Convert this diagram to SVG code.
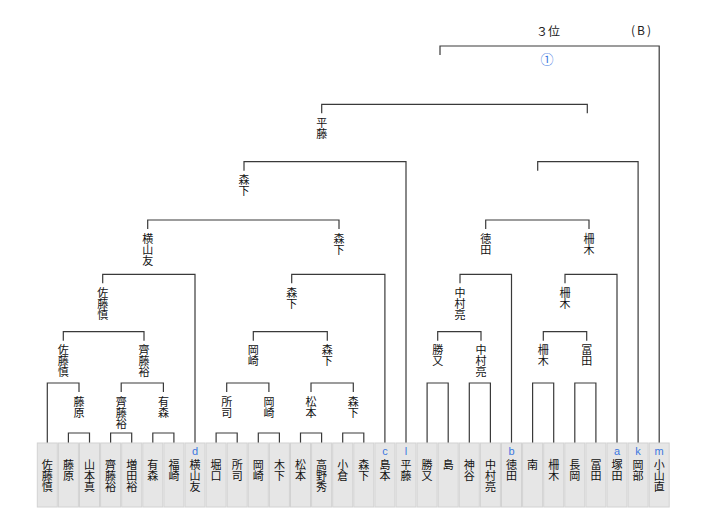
<svg xmlns="http://www.w3.org/2000/svg" width="720" height="518" viewBox="0 0 720 518">
<style>
.bg{fill:#fff}
.box{fill:#e6e6e6;stroke:#d2d2d2;stroke-width:1}
.n{font-family:"Noto Sans CJK JP","Noto Sans CJK SC",sans-serif;font-size:11px;fill:#111;text-anchor:middle}
.t{font-family:"Noto Sans CJK JP","Noto Sans CJK SC",sans-serif;font-size:12px;fill:#222;text-anchor:middle}
.s{font-family:"Liberation Sans",Arial,sans-serif;font-size:11px;fill:#3c78e0;text-anchor:middle}
.o{font-family:"Noto Sans CJK JP","Noto Sans CJK SC",sans-serif;font-size:13px;fill:#3c78e0;text-anchor:middle}
.c path{fill:none;stroke:#3a3a3a;stroke-width:1.2}
</style>
<rect class="bg" x="0" y="0" width="720" height="518"/>

<g id="connectors" class="c">
<path d="M68.4 443V433H89.5V443"/>
<path d="M110.6 443V433H131.7V443"/>
<path d="M152.8 443V433H173.9V443"/>
<path d="M216.1 443V433H237.2V443"/>
<path d="M258.3 443V433H279.4V443"/>
<path d="M300.5 443V433H321.6V443"/>
<path d="M342.7 443V433H363.8V443"/>
<path d="M47.3 443V383H79V392"/>
<path d="M121.2 392V383H163.4V392"/>
<path d="M226.7 392V383H268.9V392"/>
<path d="M311 392V383H353.3V392"/>
<path d="M63.3 340.7V331.7H144V340.7"/>
<path d="M253.3 340.7V331.7H327.3V340.7"/>
<path d="M102.7 283.3V274.3H195V443"/>
<path d="M291.7 283.3V274.3H384.9V443"/>
<path d="M147.7 229V220H339V229"/>
<path d="M244 170.7V161.7H406V443"/>
<path d="M321.7 113.3V104.3H587.3V113.3"/>
<path d="M427.1 443V383H448.2V443"/>
<path d="M469.3 443V383H490.4V443"/>
<path d="M532.6 443V383H553.7V443"/>
<path d="M574.8 443V383H595.9V443"/>
<path d="M437.7 340.7V331.7H481V340.7"/>
<path d="M543.3 340.7V331.7H586.7V340.7"/>
<path d="M460 283.3V274.3H511.5V443"/>
<path d="M565 283.3V274.3H617V443"/>
<path d="M485.7 229V220H589V229"/>
<path d="M537.7 170.7V161.7H638.1V443"/>
<path d="M440 55V46H659.2V443"/>
</g>

<g id="title">
<text class="t" x="548" y="36">３位</text>
<text class="t" x="642" y="35" letter-spacing="2">(B)</text>
<text class="o" x="547" y="63.5">①</text>
</g>

<g id="p0"><rect class="box" x="37.3" y="443" width="20" height="64"/><text class="n" x="47.3 47.3 47.3" y="468.5 479.5 490.5">佐藤慎</text></g>
<g id="p1"><rect class="box" x="58.4" y="443" width="20" height="64"/><text class="n" x="68.4 68.4" y="468.5 479.5">藤原</text></g>
<g id="p2"><rect class="box" x="79.5" y="443" width="20" height="64"/><text class="n" x="89.5 89.5 89.5" y="468.5 479.5 490.5">山本真</text></g>
<g id="p3"><rect class="box" x="100.6" y="443" width="20" height="64"/><text class="n" x="110.6 110.6 110.6" y="468.5 479.5 490.5">齊藤裕</text></g>
<g id="p4"><rect class="box" x="121.7" y="443" width="20" height="64"/><text class="n" x="131.7 131.7 131.7" y="468.5 479.5 490.5">増田裕</text></g>
<g id="p5"><rect class="box" x="142.8" y="443" width="20" height="64"/><text class="n" x="152.8 152.8" y="468.5 479.5">有森</text></g>
<g id="p6"><rect class="box" x="163.9" y="443" width="20" height="64"/><text class="n" x="173.9 173.9" y="468.5 479.5">福崎</text></g>
<g id="p7"><rect class="box" x="185" y="443" width="20" height="64"/><text class="s" x="195" y="455">d</text><text class="n" x="195 195 195" y="468.5 479.5 490.5">横山友</text></g>
<g id="p8"><rect class="box" x="206.1" y="443" width="20" height="64"/><text class="n" x="216.1 216.1" y="468.5 479.5">堀口</text></g>
<g id="p9"><rect class="box" x="227.2" y="443" width="20" height="64"/><text class="n" x="237.2 237.2" y="468.5 479.5">所司</text></g>
<g id="p10"><rect class="box" x="248.3" y="443" width="20" height="64"/><text class="n" x="258.3 258.3" y="468.5 479.5">岡崎</text></g>
<g id="p11"><rect class="box" x="269.4" y="443" width="20" height="64"/><text class="n" x="279.4 279.4" y="468.5 479.5">木下</text></g>
<g id="p12"><rect class="box" x="290.5" y="443" width="20" height="64"/><text class="n" x="300.5 300.5" y="468.5 479.5">松本</text></g>
<g id="p13"><rect class="box" x="311.6" y="443" width="20" height="64"/><text class="n" x="321.6 321.6 321.6" y="468.5 479.5 490.5">高野秀</text></g>
<g id="p14"><rect class="box" x="332.7" y="443" width="20" height="64"/><text class="n" x="342.7 342.7" y="468.5 479.5">小倉</text></g>
<g id="p15"><rect class="box" x="353.8" y="443" width="20" height="64"/><text class="n" x="363.8 363.8" y="468.5 479.5">森下</text></g>
<g id="p16"><rect class="box" x="374.9" y="443" width="20" height="64"/><text class="s" x="384.9" y="455">c</text><text class="n" x="384.9 384.9" y="468.5 479.5">島本</text></g>
<g id="p17"><rect class="box" x="396" y="443" width="20" height="64"/><text class="s" x="406" y="455">l</text><text class="n" x="406 406" y="468.5 479.5">平藤</text></g>
<g id="p18"><rect class="box" x="417.1" y="443" width="20" height="64"/><text class="n" x="427.1 427.1" y="468.5 479.5">勝又</text></g>
<g id="p19"><rect class="box" x="438.2" y="443" width="20" height="64"/><text class="n" x="448.2" y="468.5">島</text></g>
<g id="p20"><rect class="box" x="459.3" y="443" width="20" height="64"/><text class="n" x="469.3 469.3" y="468.5 479.5">神谷</text></g>
<g id="p21"><rect class="box" x="480.4" y="443" width="20" height="64"/><text class="n" x="490.4 490.4 490.4" y="468.5 479.5 490.5">中村亮</text></g>
<g id="p22"><rect class="box" x="501.5" y="443" width="20" height="64"/><text class="s" x="511.5" y="455">b</text><text class="n" x="511.5 511.5" y="468.5 479.5">徳田</text></g>
<g id="p23"><rect class="box" x="522.6" y="443" width="20" height="64"/><text class="n" x="532.6" y="468.5">南</text></g>
<g id="p24"><rect class="box" x="543.7" y="443" width="20" height="64"/><text class="n" x="553.7 553.7" y="468.5 479.5">柵木</text></g>
<g id="p25"><rect class="box" x="564.8" y="443" width="20" height="64"/><text class="n" x="574.8 574.8" y="468.5 479.5">長岡</text></g>
<g id="p26"><rect class="box" x="585.9" y="443" width="20" height="64"/><text class="n" x="595.9 595.9" y="468.5 479.5">冨田</text></g>
<g id="p27"><rect class="box" x="607" y="443" width="20" height="64"/><text class="s" x="617" y="455">a</text><text class="n" x="617 617" y="468.5 479.5">塚田</text></g>
<g id="p28"><rect class="box" x="628.1" y="443" width="20" height="64"/><text class="s" x="638.1" y="455">k</text><text class="n" x="638.1 638.1" y="468.5 479.5">岡部</text></g>
<g id="p29"><rect class="box" x="649.2" y="443" width="20" height="64"/><text class="s" x="659.2" y="455">m</text><text class="n" x="659.2 659.2 659.2" y="468.5 479.5 490.5">小山直</text></g>

<g id="w1"><text class="n" x="79 79" y="405.5 416.5">藤原</text></g>
<g id="w2"><text class="n" x="121.2 121.2 121.2" y="405.5 416.5 427.5">齊藤裕</text></g>
<g id="w3"><text class="n" x="163.4 163.4" y="405.5 416.5">有森</text></g>
<g id="w4"><text class="n" x="226.7 226.7" y="405.5 416.5">所司</text></g>
<g id="w5"><text class="n" x="268.9 268.9" y="405.5 416.5">岡崎</text></g>
<g id="w6"><text class="n" x="311 311" y="405.5 416.5">松本</text></g>
<g id="w7"><text class="n" x="353.3 353.3" y="405.5 416.5">森下</text></g>
<g id="w8"><text class="n" x="63.3 63.3 63.3" y="354.2 365.2 376.2">佐藤慎</text></g>
<g id="w9"><text class="n" x="144 144 144" y="354.2 365.2 376.2">齊藤裕</text></g>
<g id="w10"><text class="n" x="253.3 253.3" y="354.2 365.2">岡崎</text></g>
<g id="w11"><text class="n" x="327.3 327.3" y="354.2 365.2">森下</text></g>
<g id="w12"><text class="n" x="102.7 102.7 102.7" y="296.8 307.8 318.8">佐藤慎</text></g>
<g id="w13"><text class="n" x="291.7 291.7" y="296.8 307.8">森下</text></g>
<g id="w14"><text class="n" x="147.7 147.7 147.7" y="242.5 253.5 264.5">横山友</text></g>
<g id="w15"><text class="n" x="339 339" y="242.5 253.5">森下</text></g>
<g id="w16"><text class="n" x="244 244" y="184.2 195.2">森下</text></g>
<g id="w17"><text class="n" x="321.7 321.7" y="126.8 137.8">平藤</text></g>
<g id="w18"><text class="n" x="437.7 437.7" y="354.2 365.2">勝又</text></g>
<g id="w19"><text class="n" x="481 481 481" y="354.2 365.2 376.2">中村亮</text></g>
<g id="w20"><text class="n" x="543.3 543.3" y="354.2 365.2">柵木</text></g>
<g id="w21"><text class="n" x="586.7 586.7" y="354.2 365.2">冨田</text></g>
<g id="w22"><text class="n" x="460 460 460" y="296.8 307.8 318.8">中村亮</text></g>
<g id="w23"><text class="n" x="565 565" y="296.8 307.8">柵木</text></g>
<g id="w24"><text class="n" x="485.7 485.7" y="242.5 253.5">徳田</text></g>
<g id="w25"><text class="n" x="589 589" y="242.5 253.5">柵木</text></g>
</svg>
